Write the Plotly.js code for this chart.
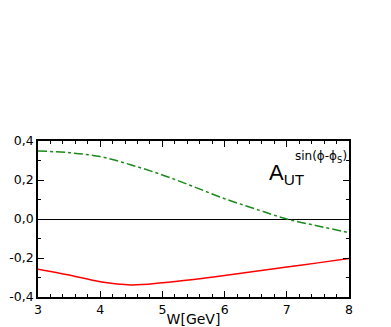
<!DOCTYPE html>
<html>
<head>
<meta charset="utf-8">
<script src="https://cdn.plot.ly/plotly-3.0.1.min.js"></script>
<style>
  html, body { margin: 0; padding: 0; background: #fff; }
  #chart { width: 391px; height: 327px; }
</style>
</head>
<body>
<div id="chart"></div>
<script>
// W values (GeV) and the two curves
var W = [3, 3.5, 4, 4.5, 5, 5.5, 6, 6.5, 7, 7.5, 8];
var greenCurve = [0.349, 0.34, 0.32, 0.277, 0.226, 0.166, 0.104, 0.051, 0.0, -0.036, -0.07];
var redCurve = [-0.257, -0.287, -0.322, -0.338, -0.327, -0.31, -0.29, -0.268, -0.246, -0.225, -0.203];

var xTicks = [3, 4, 5, 6, 7, 8];
var yTicks = [-0.4, -0.2, 0, 0.2, 0.4];
var yTickText = ["-0,4", "-0,2", "0,0", "0,2", "0,4"];

var trace1 = {
  x: W,
  y: greenCurve,
  type: "scatter",
  mode: "lines",
  line: { color: "#1a8a1a", width: 1.5, dash: "dashdot", shape: "spline" },
};

var trace2 = {
  x: W,
  y: redCurve,
  type: "scatter",
  mode: "lines",
  line: { color: "#ff0000", width: 1.5, shape: "spline" },
};

var fam = "DejaVu Sans, Arial, sans-serif";
var font = { family: fam, size: 12.5, color: "#000" };

var layout = {
  width: 391,
  height: 327,
  margin: { l: 38, r: 42, t: 141, b: 30 },
  showlegend: false,
  plot_bgcolor: "#fff",
  paper_bgcolor: "#fff",
  font: font,
  xaxis: {
    range: [3, 8],
    tickvals: xTicks,
    ticktext: xTicks.map(String),
    ticks: "inside",
    ticklen: 6,
    tickcolor: "#000",
    showgrid: false,
    zeroline: false,
    showline: true,
    linecolor: "#000",
    linewidth: 1.5,
    mirror: "ticks",
    minor: { ticks: "inside", dtick: 0.2, ticklen: 3, tickcolor: "#000" },
    title: { text: "W[GeV]", font: { family: fam, size: 14, color: "#000" }, standoff: 2 },
  },
  yaxis: {
    range: [-0.4, 0.4],
    tickvals: yTicks,
    ticktext: yTickText,
    ticks: "inside",
    ticklen: 6,
    tickcolor: "#000",
    showgrid: false,
    zeroline: true,
    zerolinecolor: "#000",
    zerolinewidth: 1,
    showline: true,
    linecolor: "#000",
    linewidth: 1.5,
    mirror: "ticks",
    minor: { ticks: "inside", dtick: 0.1, ticklen: 3, tickcolor: "#000" },
  },
  annotations: [
    {
      xref: "paper", yref: "paper", x: 0.735, y: 0.79,
      xanchor: "left", yanchor: "middle",
      text: "A<sub>UT</sub>", showarrow: false,
      font: { family: "Liberation Sans, Arial, sans-serif", size: 22, color: "#000" },
    },
    {
      xref: "paper", yref: "paper", x: 1.0, y: 0.9,
      xanchor: "right", yanchor: "middle",
      text: "sin(ϕ-ϕ<sub>S</sub>)", showarrow: false,
      font: { family: fam, size: 12, color: "#000" },
    },
  ],
};

Plotly.newPlot("chart", [trace1, trace2], layout, { displayModeBar: false });
</script>
</body>
</html>
